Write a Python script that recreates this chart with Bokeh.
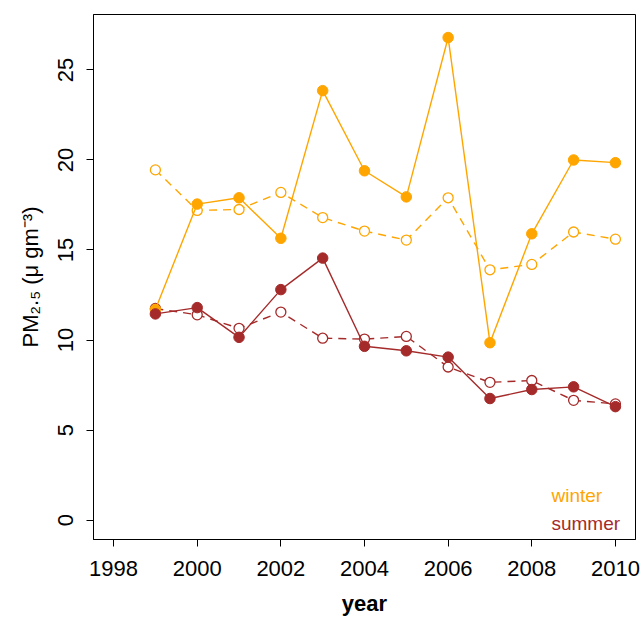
from bokeh.plotting import figure
from bokeh.models import Range1d, FixedTicker, Label, ColumnDataSource
from bokeh.embed import file_html
from bokeh.resources import INLINE

# ---- data ----
years = [1999, 2000, 2001, 2002, 2003, 2004, 2005, 2006, 2007, 2008, 2009, 2010]
winter_solid = [11.7, 17.55, 17.9, 15.65, 23.85, 19.4, 17.95, 26.8, 9.85, 15.9, 20.0, 19.85]
winter_dashed = [19.45, 17.2, 17.25, 18.2, 16.8, 16.05, 15.55, 17.9, 13.9, 14.2, 16.0, 15.6]
summer_solid = [11.45, 11.8, 10.15, 12.8, 14.55, 9.65, 9.4, 9.05, 6.75, 7.25, 7.4, 6.3]
summer_dashed = [11.75, 11.4, 10.65, 11.55, 10.1, 10.05, 10.2, 8.5, 7.65, 7.75, 6.65, 6.45]
x_ticks = [1998, 2000, 2002, 2004, 2006, 2008, 2010]
y_ticks = [0, 5, 10, 15, 20, 25]
legend_labels = ["winter", "summer"]

ORANGE = "#FFA500"
BROWN = "#A52A2A"
FONT = "Liberation Sans"

p = figure(width=643, height=619,
           x_range=Range1d(1997.52, 2010.48), y_range=Range1d(-1.08, 28.08),
           output_backend="svg", toolbar_location=None,
           min_border_left=93, min_border_right=8, min_border_top=14, min_border_bottom=80)

p.background_fill_color = "white"
p.border_fill_color = "white"
p.outline_line_color = "black"
p.outline_line_width = 1
p.xgrid.visible = False
p.ygrid.visible = False

p.xaxis.ticker = FixedTicker(ticks=x_ticks)
p.yaxis.ticker = FixedTicker(ticks=y_ticks)
for ax in (p.xaxis[0], p.yaxis[0]):
    ax.major_tick_out = 7
    ax.major_tick_in = 0
    ax.minor_tick_out = 0
    ax.minor_tick_in = 0
    ax.axis_line_color = "black"
    ax.major_tick_line_color = "black"
    ax.major_label_text_font = FONT
    ax.major_label_text_font_size = "22px"
    ax.major_label_text_color = "black"
    ax.axis_label_text_font = FONT
    ax.axis_label_text_font_size = "22px"
    ax.axis_label_text_color = "black"

p.xaxis.axis_label = "year"
p.xaxis.axis_label_text_font_style = "bold"
p.xaxis.major_label_standoff = 14
p.xaxis.axis_label_standoff = 12

p.yaxis.axis_label = "PM\u2082.\u2085 (\u03bc gm\u207b\u00b3)"
p.yaxis.axis_label_text_font_style = "normal"
p.yaxis.major_label_orientation = "vertical"
p.yaxis.major_label_standoff = 13
p.yaxis.axis_label_standoff = 13

src = ColumnDataSource(dict(year=years, ws=winter_solid, wd=winter_dashed,
                            ss=summer_solid, sd=summer_dashed))

# dashed series with open circles
for col, color in (("wd", ORANGE), ("sd", BROWN)):
    p.line("year", col, source=src, line_color=color, line_width=1.4, line_dash="8 6")
    p.scatter("year", col, source=src, marker="circle", size=10, fill_color="white",
              line_color=color, line_width=1.3)

# solid series with filled circles
for col, color in (("ws", ORANGE), ("ss", BROWN)):
    p.line("year", col, source=src, line_color=color, line_width=1.4)
    p.scatter("year", col, source=src, marker="circle", size=10.5, fill_color=color,
              line_color=color, line_width=1)

# legend texts (bottom right, no symbols)
for lab, color, yy in ((legend_labels[0], ORANGE, 1.34), (legend_labels[1], BROWN, -0.17)):
    p.add_layout(Label(x=2008.47, y=yy, text=lab, text_color=color, text_font=FONT,
                       text_font_size="19px", text_align="left", text_baseline="alphabetic"))

open("out.html", "w").write(file_html(p, INLINE))
